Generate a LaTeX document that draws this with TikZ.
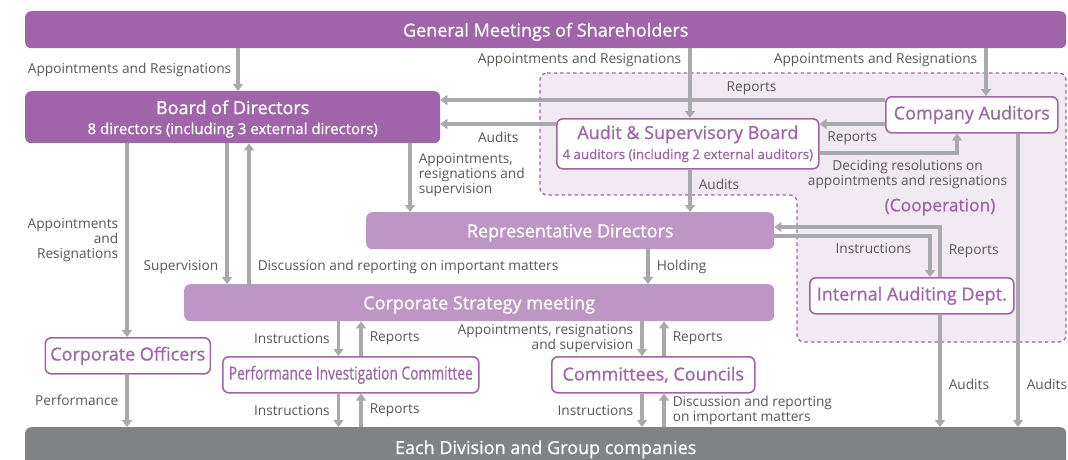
\documentclass[tikz,border=0pt]{standalone}
\usepackage{fontspec}
\setmainfont{Open Sans}
\newfontfamily\titlefont{Open Sans}[FakeBold=0.8]
\usetikzlibrary{arrows.meta}
\definecolor{boardcolor}{RGB}{160,100,168}
\definecolor{execcolor}{RGB}{190,150,197}
\definecolor{divcolor}{RGB}{128,130,133}
\definecolor{arrowcolor}{RGB}{167,169,172}
\definecolor{coopcolor}{RGB}{241,234,243}
\definecolor{notecolor}{RGB}{89,87,87}

\begin{document}
\begin{tikzpicture}[
    x=1pt, y=-1pt,
    block/.style={rectangle, fill=boardcolor, rounded corners=6pt, text=white, anchor=north west, inner sep=0pt, text depth=0pt, font=\titlefont\fontsize{18}{21}\selectfont},
    execblock/.style={block, fill=execcolor},
    divblock/.style={block, fill=divcolor},
    whiteblock/.style={block, fill=white, draw=boardcolor, line width=1.6pt, text=boardcolor, text depth=},
    coopregion/.style={draw=boardcolor, fill=coopcolor, line width=1.3pt, dash pattern=on 3.5pt off 3pt, rounded corners=7pt},
    arrow/.style={-{Triangle[width=10pt,length=7pt]}, draw=arrowcolor, line width=3.5pt},
    note/.style={font=\fontsize{13.7}{15}\selectfont, text=notecolor, inner xsep=7pt, inner ysep=3pt}
]
\useasboundingbox (0,0) rectangle (1068,459);
\clip (0,0) rectangle (1068,459);

% Cooperation area
\draw[coopregion] (540,73) -- (1066,73) -- (1066,342) -- (797,342) -- (797,195) -- (540,195) -- cycle;
\node[font=\titlefont\fontsize{17.4}{20}\selectfont, text=boardcolor] (coop) at (940,207) {(Cooperation)};

% Boxes
\node[block, minimum width=1041, minimum height=37] (gm) at (25,11) {General Meetings of Shareholders};
\node[block, minimum width=415, minimum height=52, align=center] (bod) at (25,91) {Board of Directors\\[-1pt]{\fontsize{15}{17}\selectfont 8 directors (including 3 external directors)}};
\node[whiteblock, minimum width=262, minimum height=50, align=center] (asb) at (556,118) {Audit \& Supervisory Board\\[-1pt]{\fontsize{13.3}{15}\selectfont 4 auditors (including 2 external auditors)}};
\node[whiteblock, minimum width=172, minimum height=36] (ca) at (885,96) {Company Auditors};
\node[execblock, minimum width=408, minimum height=37] (rd) at (366,212) {Representative Directors};
\node[execblock, minimum width=590, minimum height=37] (csm) at (184,284) {Corporate Strategy meeting};
\node[whiteblock, minimum width=204, minimum height=36] (iad) at (809,277) {Internal Auditing Dept.};
\node[whiteblock, minimum width=165, minimum height=36] (co) at (44.5,337) {Corporate Officers};
\node[whiteblock, minimum width=256, minimum height=36] (pic) at (222,356) {\scalebox{0.765}[1]{Performance Investigation Committee}};
\node[whiteblock, minimum width=203, minimum height=36] (cc) at (551,356) {Committees, Councils};
\node[divblock, minimum width=1041, minimum height=40] (div) at (25,427) {Each Division and Group companies};

% Columns and rows of the connectors
\coordinate (colBoard) at (238,0);
\coordinate (colAudit) at (690,0);
\coordinate (colAuditors) at (986,0);
\coordinate (colDecide) at (957,0);
\coordinate (colOfficers) at (127,0);
\coordinate (colSuper) at (227,0);
\coordinate (colDiscuss) at (249,0);
\coordinate (colRep) at (410,0);
\coordinate (colHold) at (648,0);
\coordinate (colPicIn) at (338.5,0);
\coordinate (colPicOut) at (361,0);
\coordinate (colCcIn) at (642,0);
\coordinate (colCcOut) at (664,0);
\coordinate (colInstr) at (930,0);
\coordinate (colIad) at (940,0);
\coordinate (colCaAudit) at (1018,0);
\coordinate (rowReports) at (0,100);
\coordinate (rowAudits) at (0,124);
\coordinate (rowDecide) at (0,153);
\coordinate (rowIadRep) at (0,227);
\coordinate (rowInstr) at (0,236);

% General Meetings of Shareholders
\draw[arrow] (gm.south -| colBoard) -- node[note, left, xshift=2] {Appointments and Resignations} (bod.north -| colBoard);
\draw[arrow] (gm.south -| colAudit) -- node[note, left, pos=0.17] {Appointments and Resignations} (asb.north -| colAudit);
\draw[arrow] (gm.south -| colAuditors) -- node[note, left, pos=0.25] {Appointments and Resignations} (ca.north -| colAuditors);

% Auditors
\draw[arrow] (ca.west |- rowReports) -- node[note, above, pos=0.3] {Reports} (bod.east |- rowReports);
\draw[arrow] (asb.west |- rowAudits) -- node[note, below, yshift=-3] {Audits} (bod.east |- rowAudits);
\draw[arrow] (ca.west |- rowAudits) -- node[note, below, yshift=-3] {Reports} (asb.east |- rowAudits);
\draw[arrow] (asb.east |- rowDecide) -| node[note, below, pos=0.32, yshift=-2, align=center] {Deciding resolutions on\\appointments and resignations} (ca.south -| colDecide);
\draw[arrow] (asb.south -| colAudit) -- node[note, right, pos=0.34] {Audits} (rd.north -| colAudit);

% Board of Directors
\draw[arrow] (bod.south -| colRep) -- node[note, right, pos=0.46, align=left] {Appointments,\\resignations and\\supervision} (rd.north -| colRep);
\draw[arrow] (bod.south -| colOfficers) -- node[note, left, align=right] {Appointments\\and\\Resignations} (co.north -| colOfficers);
\draw[arrow] (bod.south -| colSuper) -- node[note, left, pos=0.88] {Supervision} (csm.north -| colSuper);
\draw[arrow] (csm.north -| colDiscuss) -- node[note, right, pos=0.12] {Discussion and reporting on important matters} (bod.south -| colDiscuss);

% Executive side
\draw[arrow] (rd.south -| colHold) -- node[note, right] {Holding} (csm.north -| colHold);
\draw[arrow] (csm.south -| colPicIn) -- node[note, left] {Instructions} (pic.north -| colPicIn);
\draw[arrow] (pic.north -| colPicOut) -- node[note, right] {Reports} (csm.south -| colPicOut);
\draw[arrow] (csm.south -| colCcIn) -- node[note, left, align=right] {Appointments, resignations\\and supervision} (cc.north -| colCcIn);
\draw[arrow] (cc.north -| colCcOut) -- node[note, right] {Reports} (csm.south -| colCcOut);

% Divisions
\draw[arrow] (co.south -| colOfficers) -- node[note, left] {Performance} (div.north -| colOfficers);
\draw[arrow] (pic.south -| colPicIn) -- node[note, left] {Instructions} (div.north -| colPicIn);
\draw[arrow] (div.north -| colPicOut) -- node[note, right] {Reports} (pic.south -| colPicOut);
\draw[arrow] (cc.south -| colCcIn) -- node[note, left] {Instructions} (div.north -| colCcIn);
\draw[arrow] (div.north -| colCcOut) -- node[note, right, align=left] {Discussion and reporting\\on important matters} (cc.south -| colCcOut);

% Internal auditing
\draw[arrow] (rd.east |- rowInstr) -| node[note, left, pos=0.65, xshift=-10] {Instructions} (iad.north -| colInstr);
\draw[arrow] (iad.north -| colIad) |- node[note, right, pos=0.26] {Reports} (rd.east |- rowIadRep);
\draw[arrow] (iad.south -| colIad) -- node[note, right, pos=0.62] {Audits} (div.north -| colIad);
\draw[arrow] (ca.south -| colCaAudit) -- node[note, right, pos=0.855] {Audits} (div.north -| colCaAudit);

\end{tikzpicture}
\end{document}
